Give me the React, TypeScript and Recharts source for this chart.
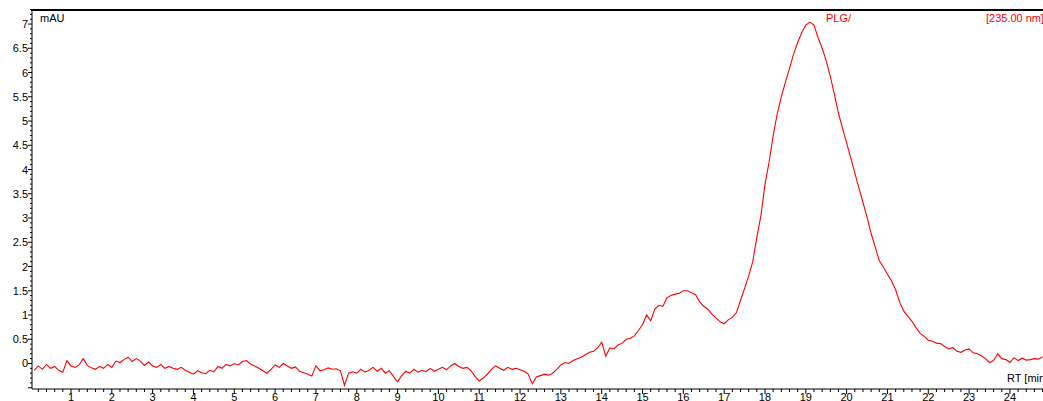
import React from 'react'
import { LineChart, Line, XAxis, YAxis } from 'recharts'

// absorbance, one value every 0.1 min starting at 0.1 min
const signal = [
  -0.14, -0.05, -0.12, -0.02, -0.1, -0.06, -0.14, -0.18, 0.06, -0.05,
  -0.08, -0.03, 0.1, -0.04, -0.09, -0.12, -0.06, -0.1, -0.02, -0.08,
  0.05, 0.02, 0.08, 0.13, 0.04, 0.1, 0.05, -0.04, 0.03, -0.05,
  -0.08, -0.02, -0.1, -0.06, -0.1, -0.12, -0.08, -0.14, -0.18, -0.22,
  -0.15, -0.19, -0.21, -0.14, -0.17, -0.06, -0.1, -0.02, -0.05, 0.0,
  -0.03, 0.04, 0.06, -0.01, -0.05, -0.1, -0.15, -0.2, -0.12, -0.03,
  -0.08, 0.0, -0.05, -0.1, -0.07, -0.16, -0.19, -0.22, -0.26, -0.05,
  -0.15, -0.13, -0.09, -0.12, -0.11, -0.15, -0.45, -0.2, -0.17, -0.2,
  -0.12, -0.18, -0.14, -0.08, -0.16, -0.1, -0.2, -0.15, -0.27, -0.38,
  -0.25, -0.16, -0.2, -0.12, -0.18, -0.14, -0.17, -0.1, -0.16, -0.12,
  -0.08, -0.13, -0.05, 0.0, -0.06, -0.1, -0.08, -0.15, -0.27, -0.36,
  -0.3, -0.22, -0.12, -0.05, -0.1, -0.14, -0.08, -0.12, -0.1, -0.13,
  -0.16, -0.22, -0.42, -0.28, -0.25, -0.22, -0.24, -0.2, -0.12, -0.03,
  0.02, 0.0, 0.06, 0.1, 0.13, 0.18, 0.23, 0.25, 0.32, 0.44,
  0.15, 0.32, 0.3, 0.38, 0.42, 0.5, 0.52, 0.57, 0.68, 0.8,
  1.0, 0.88, 1.12, 1.2, 1.18, 1.36, 1.4, 1.43, 1.45, 1.5,
  1.5, 1.46, 1.42, 1.27, 1.18, 1.12, 1.02, 0.94, 0.86, 0.82,
  0.9, 0.95, 1.05, 1.3, 1.55, 1.8, 2.1, 2.6, 3.05, 3.7,
  4.15, 4.7, 5.15, 5.5, 5.8, 6.08, 6.38, 6.62, 6.82, 6.98,
  7.04, 6.98, 6.72, 6.5, 6.24, 5.92, 5.55, 5.16, 4.85, 4.55,
  4.24, 3.93, 3.62, 3.32, 3.02, 2.68, 2.4, 2.12, 1.99, 1.84,
  1.7, 1.52, 1.26, 1.08, 0.97, 0.87, 0.74, 0.62, 0.56, 0.48,
  0.46, 0.42, 0.41, 0.35, 0.3, 0.33, 0.25, 0.23, 0.28, 0.3,
  0.22, 0.2, 0.16, 0.1, 0.02, 0.06, 0.2, 0.1, 0.08, 0.02,
  0.12, 0.06, 0.11, 0.07, 0.08, 0.1, 0.09, 0.14,
]

const data = signal.map((v, i) => ({ rt: (i + 1) / 10, mau: v }))

const X_DOMAIN = [0.045, 24.81]
const Y_DOMAIN = [-0.526, 7.31]
const xTicks = Array.from({ length: 124 }, (_, k) => (k + 1) * 2 / 10)
const yTicks = Array.from({ length: 79 }, (_, k) => (k - 5) / 10)

const font = '"Liberation Sans", Arial, sans-serif'

const isWhole = (v: number) => Math.abs(v - Math.round(v)) < 1e-6
const isHalf = (v: number) => Math.abs(v * 2 - Math.round(v * 2)) < 1e-6

const XTick = (props: any) => {
  const { x, y, payload } = props
  const major = isWhole(payload.value)
  return (
    <g>
      <line x1={x} y1={y} x2={x} y2={y + (major ? 5 : 3)} stroke="#000" />
      {major && (
        <text x={x} y={y + 12} textAnchor="middle" fontSize={11} fontFamily={font} fill="#000">
          {Math.round(payload.value)}
        </text>
      )}
    </g>
  )
}

const YTick = (props: any) => {
  const { x, y, payload } = props
  const major = isHalf(payload.value)
  return (
    <g>
      <line x1={x} y1={y} x2={x - (major ? 4 : 2)} y2={y} stroke="#000" />
      {major && payload.value >= 0 && (
        <text x={x - 4} y={y + 4} textAnchor="end" fontSize={11} fontFamily={font} fill="#000">
          {String(Math.round(payload.value * 10) / 10)}
        </text>
      )}
    </g>
  )
}

const App: React.FC = () => {
  return (
    <div style={{ position: 'absolute', left: 0, top: 0, width: 1043, height: 401, background: '#fff', overflow: 'hidden' }}>
      <LineChart width={1043} height={401} data={data} margin={{ top: 9, right: 0, left: 0, bottom: 0 }}>
        <XAxis
          dataKey="rt"
          type="number"
          domain={X_DOMAIN}
          allowDataOverflow
          ticks={xTicks}
          interval={0}
          tick={<XTick />}
          tickLine={false}
          tickSize={0}
          tickMargin={0}
          height={12}
          axisLine={{ stroke: '#000' }}
        />
        <YAxis
          type="number"
          domain={Y_DOMAIN}
          allowDataOverflow
          ticks={yTicks}
          interval={0}
          tick={<YTick />}
          tickLine={false}
          tickSize={0}
          tickMargin={0}
          width={32}
          axisLine={{ stroke: '#000' }}
        />
        <Line
          dataKey="mau"
          type="linear"
          stroke="#ff0000"
          strokeWidth={1.1}
          dot={false}
          isAnimationActive={false}
        />
        {/* frame line along the top of the plot */}
        <rect x={31} y={9} width={1012} height={2} fill="#000" />
        <text x={40} y={22} fontSize={11} fontFamily={font} fill="#000">mAU</text>
        <text x={826} y={22} fontSize={11} fontFamily={font} fill="#ff0000">PLG/</text>
        <text x={986} y={22} fontSize={11} fontFamily={font} fill="#ff0000">[235.00 nm]</text>
        <text x={1007} y={382} fontSize={11} fontFamily={font} fill="#000">RT [min]</text>
      </LineChart>
    </div>
  )
}

export default App
